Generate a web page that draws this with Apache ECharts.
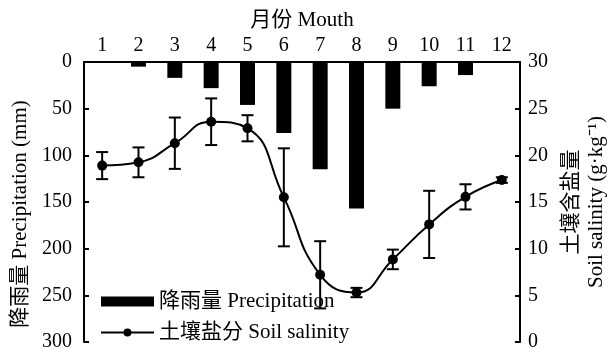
<!DOCTYPE html>
<html>
<head>
<meta charset="utf-8">
<script src="https://cdn.jsdelivr.net/npm/echarts@6/dist/echarts.min.js"></script>
<style>
html,body{margin:0;padding:0;background:#fff;}
#chart{width:610px;height:349px;}
</style>
</head>
<body>
<div id="chart"></div>
<script>
const months = ['1','2','3','4','5','6','7','8','9','10','11','12'];
const precipitation = [0, 5, 17, 28, 46, 76, 115, 157, 50, 26, 14, 0];
const salinity = [18.9, 19.25, 21.3, 23.6, 22.9, 15.5, 7.2, 5.3, 8.85, 12.6, 15.55, 17.35];
const salinityErr = [1.45, 1.6, 2.75, 2.5, 1.4, 5.25, 3.6, 0.5, 1.05, 3.6, 1.35, 0.3];
const precipTicks = {min: 0, max: 300, interval: 50};
const salinityTicks = {min: 0, max: 30, interval: 5};

const FONT = "'Liberation Serif', 'Times New Roman', 'Noto Sans CJK SC', serif";
const errData = salinity.map((v, i) => [i, v - salinityErr[i], v + salinityErr[i]]);

const chart = echarts.init(document.getElementById('chart'));
chart.setOption({
  animation: false,
  backgroundColor: '#fff',
  textStyle: {fontFamily: FONT, color: '#000'},
  grid: {left: 84, right: 90, top: 62, bottom: 7, containLabel: false, outerBoundsMode: 'none'},
  legend: {
    orient: 'vertical',
    left: 100,
    top: 291,
    padding: 0,
    itemGap: 10,
    itemWidth: 53,
    itemHeight: 10,
    textStyle: {fontFamily: FONT, fontSize: 21, color: '#000'},
    data: [
      {name: '降雨量 Precipitation', icon: 'rect'},
      {name: '土壤盐分 Soil salinity'}
    ]
  },
  xAxis: {
    type: 'category',
    position: 'top',
    data: months,
    boundaryGap: true,
    name: '月份 Mouth',
    nameLocation: 'middle',
    nameGap: 29,
    nameTextStyle: {fontFamily: FONT, fontSize: 21, color: '#000'},
    axisLine: {lineStyle: {color: '#000', width: 2}},
    axisTick: {inside: true, length: 5, lineStyle: {color: '#000', width: 2}},
    axisLabel: {fontFamily: FONT, fontSize: 20, color: '#000', margin: 6},
    splitLine: {show: false}
  },
  yAxis: [
    {
      type: 'value',
      position: 'left',
      inverse: true,
      min: precipTicks.min, max: precipTicks.max, interval: precipTicks.interval,
      name: '降雨量 Precipitation (mm)',
      nameLocation: 'middle',
      nameRotate: 90,
      nameGap: 52,
      nameTextStyle: {fontFamily: FONT, fontSize: 21, color: '#000', padding: [0, 24, 0, 0]},
      axisLine: {show: true, lineStyle: {color: '#000', width: 2}},
      axisTick: {show: true, inside: true, length: 5, lineStyle: {color: '#000', width: 2}},
      axisLabel: {fontFamily: FONT, fontSize: 20, color: '#000', margin: 12},
      splitLine: {show: false}
    },
    {
      type: 'value',
      position: 'right',
      min: salinityTicks.min, max: salinityTicks.max, interval: salinityTicks.interval,
      name: '{a|土壤含盐量}\n{b|Soil salinity (g·kg⁻¹)}',
      nameLocation: 'middle',
      nameRotate: 90,
      nameGap: 39,
      nameTextStyle: {
        fontFamily: FONT, fontSize: 21, color: '#000',
        rich: {
          a: {fontFamily: FONT, fontSize: 21, color: '#000', lineHeight: 25},
          b: {fontFamily: FONT, fontSize: 21, color: '#000', lineHeight: 25}
        }
      },
      axisLine: {show: true, lineStyle: {color: '#000', width: 2}},
      axisTick: {show: true, inside: true, length: 5, lineStyle: {color: '#000', width: 2}},
      axisLabel: {fontFamily: FONT, fontSize: 20, color: '#000', margin: 8},
      splitLine: {show: false}
    }
  ],
  series: [
    {
      name: '降雨量 Precipitation',
      type: 'bar',
      xAxisIndex: 0,
      yAxisIndex: 0,
      barWidth: 15,
      itemStyle: {color: '#000'},
      data: precipitation
    },
    {
      name: '土壤盐分 Soil salinity',
      type: 'line',
      xAxisIndex: 0,
      yAxisIndex: 1,
      smooth: 0.5,
      symbol: 'circle',
      symbolSize: 10,
      lineStyle: {color: '#000', width: 2},
      itemStyle: {color: '#000'},
      data: salinity,
      z: 3
    },
    {
      name: 'err',
      type: 'custom',
      xAxisIndex: 0,
      yAxisIndex: 1,
      encode: {x: 0, y: [1, 2]},
      data: errData,
      z: 4,
      renderItem: function (params, api) {
        const x = api.value(0);
        const lo = api.coord([x, api.value(1)]);
        const hi = api.coord([x, api.value(2)]);
        const w = 6;
        const st = {stroke: '#000', lineWidth: 2};
        return {
          type: 'group',
          children: [
            {type: 'line', shape: {x1: lo[0], y1: lo[1], x2: hi[0], y2: hi[1]}, style: st},
            {type: 'line', shape: {x1: lo[0] - w, y1: lo[1], x2: lo[0] + w, y2: lo[1]}, style: st},
            {type: 'line', shape: {x1: hi[0] - w, y1: hi[1], x2: hi[0] + w, y2: hi[1]}, style: st}
          ]
        };
      }
    }
  ]
});
</script>
</body>
</html>
